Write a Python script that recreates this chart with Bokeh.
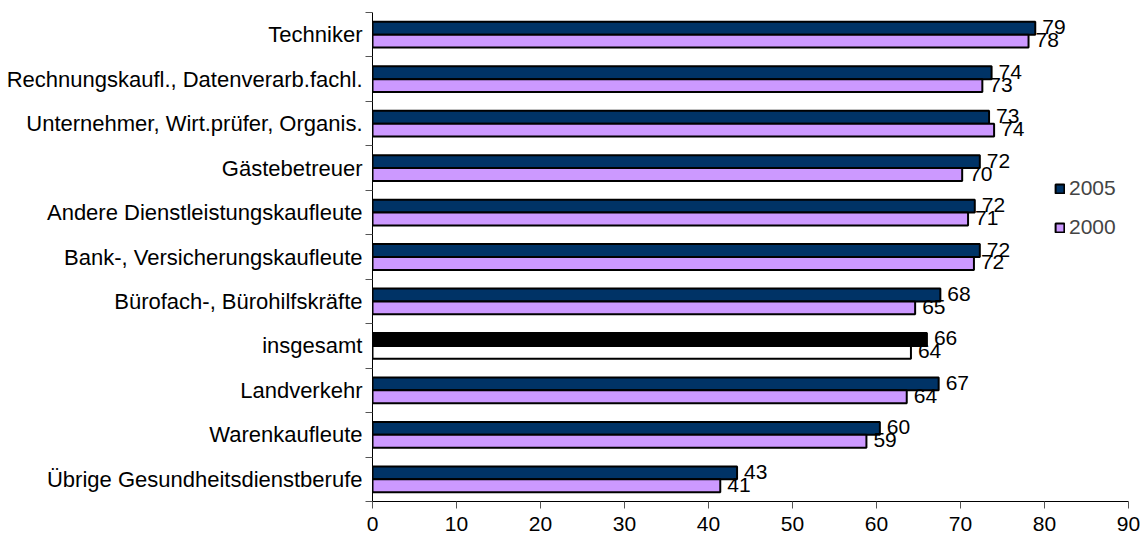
from bokeh.plotting import figure
from bokeh.models import ColumnDataSource, Range1d, FixedTicker, Legend, LegendItem
from bokeh.core.properties import value
from bokeh.embed import file_html
from bokeh.resources import INLINE

categories = [
    "Techniker",
    "Rechnungskaufl., Datenverarb.fachl.",
    "Unternehmer, Wirt.prüfer, Organis.",
    "Gästebetreuer",
    "Andere Dienstleistungskaufleute",
    "Bank-, Versicherungskaufleute",
    "Bürofach-, Bürohilfskräfte",
    "insgesamt",
    "Landverkehr",
    "Warenkaufleute",
    "Übrige Gesundheitsdienstberufe",
]
v2005 = [78.9, 73.7, 73.4, 72.3, 71.7, 72.3, 67.6, 66.0, 67.4, 60.4, 43.4]
v2000 = [78.1, 72.6, 74.0, 70.2, 70.9, 71.6, 64.6, 64.1, 63.6, 58.8, 41.4]
series = ["2005", "2000"]
highlight = "insgesamt"
x_ticks = [0, 10, 20, 30, 40, 50, 60, 70, 80, 90]

FONT = "Liberation Sans"
C05, C00 = "#003366", "#CC99FF"

n = len(categories)
centers = [i + 0.5 for i in range(n)]
boundaries = [float(i) for i in range(n + 1)]
off = 0.145
hgt = 0.29

src05 = ColumnDataSource(dict(
    y=[c - off for c in centers], v=v2005,
    color=["#000000" if c == highlight else C05 for c in categories],
    lab=["%.0f" % v for v in v2005]))
src00 = ColumnDataSource(dict(
    y=[c + off for c in centers], v=v2000,
    color=["#FFFFFF" if c == highlight else C00 for c in categories],
    lab=["%.0f" % v for v in v2000]))

p = figure(width=1146, height=543, output_backend="svg", toolbar_location=None,
           x_range=Range1d(0, 90), y_range=Range1d(n, 0),
           min_border_left=372, min_border_right=18, min_border_top=12, min_border_bottom=42)
p.outline_line_color = None
p.xgrid.visible = False
p.ygrid.visible = False
p.background_fill_color = "white"

r05 = p.hbar(y="y", right="v", left=0, height=hgt, source=src05,
             fill_color="color", line_color="black", line_width=2)
r00 = p.hbar(y="y", right="v", left=0, height=hgt, source=src00,
             fill_color="color", line_color="black", line_width=2)

for s in (src05, src00):
    p.text(x="v", y="y", text="lab", source=s, x_offset=7, y_offset=-1,
           text_font=value(FONT), text_font_size="21px", text_color="black",
           text_baseline="middle", text_align="left")

# x axis
xa = p.xaxis[0]
xa.ticker = FixedTicker(ticks=x_ticks, minor_ticks=[])
xa.axis_line_color = "black"
xa.major_tick_line_color = "#555555"
xa.major_tick_out = 7
xa.major_tick_in = 0
xa.minor_tick_line_color = None
xa.major_label_text_font = FONT
xa.major_label_text_font_size = "21px"
xa.major_label_text_color = "black"
xa.major_label_standoff = 8

# y axis
ya = p.yaxis[0]
ya.ticker = FixedTicker(ticks=centers, minor_ticks=boundaries)
ya.major_label_overrides = {c: categories[i] for i, c in enumerate(centers)}
ya.axis_line_color = "black"
ya.major_tick_line_color = None
ya.minor_tick_line_color = "#555555"
ya.minor_tick_out = 7
ya.minor_tick_in = 0
ya.major_label_text_font = FONT
ya.major_label_text_font_size = "22px"
ya.major_label_text_color = "black"
ya.major_label_standoff = 3

legend = Legend(items=[LegendItem(label=series[0], renderers=[r05], index=0),
                       LegendItem(label=series[1], renderers=[r00], index=0)],
                location=(682, 262), orientation="vertical",
                glyph_width=11, glyph_height=11, label_standoff=4,
                label_text_font=FONT, label_text_font_size="21px",
                label_height=20, spacing=15, padding=0, margin=0,
                border_line_color=None, background_fill_color=None)
p.add_layout(legend, "center")

open("out.html", "w").write(file_html(p, INLINE))
